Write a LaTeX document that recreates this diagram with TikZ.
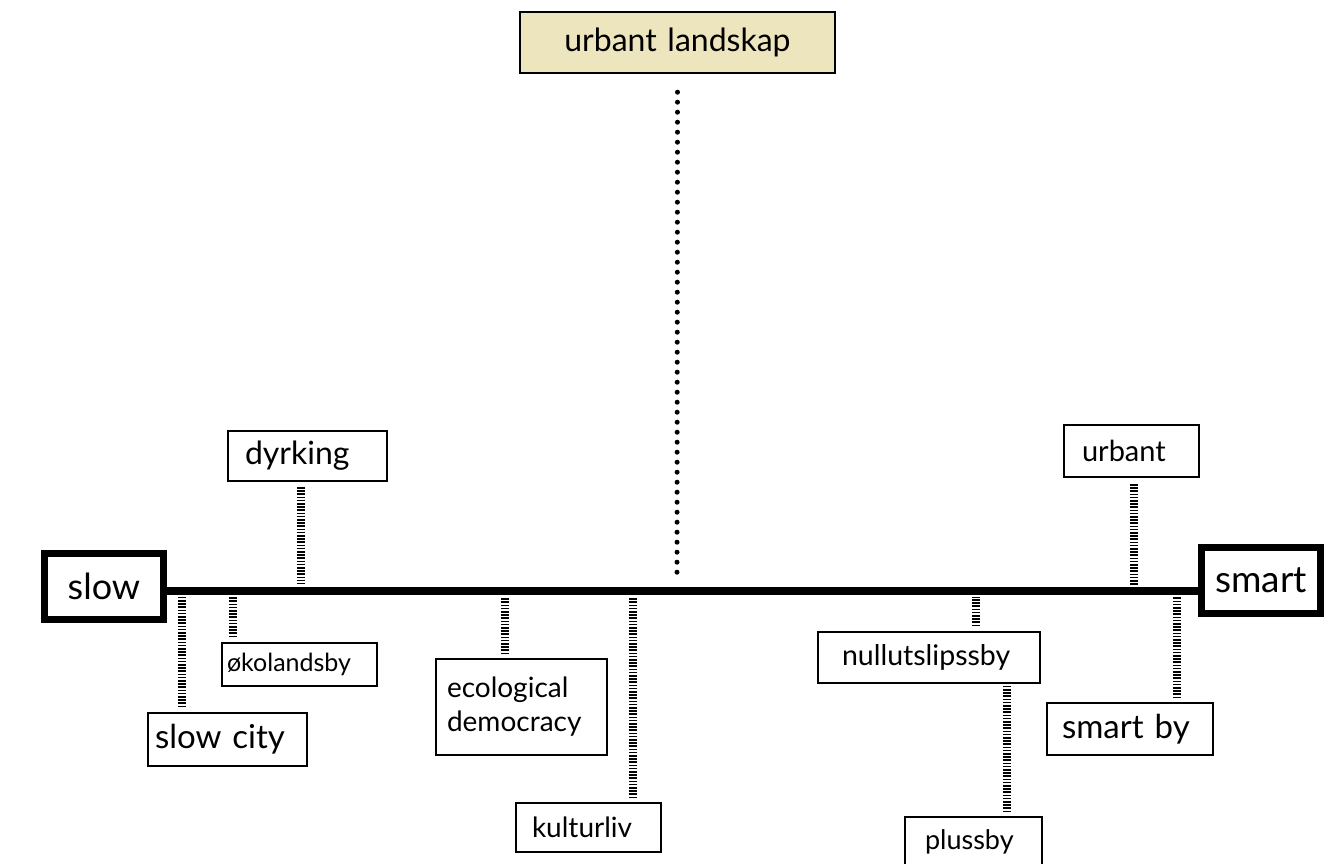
\documentclass[tikz,border=0pt]{standalone}
\usepackage{fontspec}
\setmainfont{Lato}
\definecolor{beige}{RGB}{237,229,189}
\begin{document}
\begin{tikzpicture}[x=1pt,y=-1pt,
  fs/.style={font=\fontsize{#1pt}{#1pt}\selectfont},
  tbox/.style={draw, line width=1.8pt, inner ysep=0pt, align=left},
  bigbox/.style={draw, line width=7pt, inner ysep=0pt, inner xsep=0pt, align=center},
  mainline/.style={line width=7.5pt},
  stripe/.style={line width=8pt, dash pattern=on 1.6pt off 1.6pt},
  dots/.style={line width=5pt, line cap=round, dash pattern=on 0pt off 10pt}]
\useasboundingbox (0,0) rectangle (1339,863);

% top box
\node[draw, line width=2.4pt, fill=beige, align=center, inner xsep=0pt, inner ysep=0pt,
      text width=315pt, minimum height=61pt, fs=32] (ul) at (677.5,42.5) {urbant landskap};

% end boxes
\node[bigbox, text width=119pt, minimum height=66pt, fs=36] (slow) at (104,586.5) {slow};
\node[bigbox, text width=119pt, minimum height=66pt, fs=37] (smart) at (1261,580.5) {smart};

% small boxes
\node[tbox, text width=125pt, inner xsep=17pt, minimum height=50pt, fs=32] (dyr) at (307.5,456) {dyrking};
\node[tbox, text width=99pt, inner xsep=18pt, minimum height=52pt, fs=29] (urb) at (1131.5,451) {urbant};
\node[tbox, text width=145pt, inner xsep=7pt, minimum height=53pt, fs=33] (slc) at (227.5,739.5) {slow city};
\node[tbox, text width=145pt, inner xsep=5pt, minimum height=43pt, fs=25] (oko) at (299.5,664.5) {økolandsby};
\node[tbox, text width=149pt, inner xsep=11pt, minimum height=96pt,
      font=\fontsize{28pt}{34pt}\selectfont] (eco) at (521.5,707) {ecological\\democracy};
\node[tbox, text width=113pt, inner xsep=16pt, minimum height=49pt, fs=28] (kul) at (588.5,827.5) {kulturliv};
\node[tbox, text width=174pt, inner xsep=24pt, minimum height=51pt, fs=28.5] (nul) at (929,657.5) {nullutslipssby};
\node[tbox, text width=97pt, inner xsep=20pt, minimum height=49pt, fs=27] (plu) at (973.5,841.5) {plussby};
\node[tbox, text width=136pt, inner xsep=15pt, minimum height=52pt, fs=33] (smb) at (1130,729) {smart by};

% main line
\coordinate (M) at (677,591);
\draw[mainline] (slow.east |- M) -- (smart.west |- M);

% dotted line
\coordinate (dend) at (677,572.5);
\draw[dots] (ul.south) ++(0,18) -- (dend);

% connector end points on the line
\coordinate (cdyr) at (301,583);
\coordinate (curb) at (1134,586);
\coordinate (cslc) at (182,597);
\coordinate (coko) at (233,597);
\coordinate (ceco) at (505,597);
\coordinate (ckul) at (633,597);
\coordinate (cnul) at (976,597);
\coordinate (csmb) at (1177,597);
\coordinate (cplu) at (1007,685);

\draw[stripe] (dyr.south -| cdyr) ++(0,5) -- (cdyr);
\draw[stripe] (urb.south -| curb) ++(0,6) -- (curb);
\draw[stripe] (slc.north -| cslc) ++(0,-5) -- (cslc);
\draw[stripe] (oko.north -| coko) ++(0,-5) -- (coko);
\draw[stripe] (eco.north -| ceco) ++(0,-4) -- (ceco);
\draw[stripe] (kul.north -| ckul) ++(0,-4) -- (ckul);
\draw[stripe] (nul.north -| cnul) ++(0,-5) -- (cnul);
\draw[stripe] (smb.north -| csmb) ++(0,-4) -- (csmb);
\draw[stripe] (plu.north -| cplu) ++(0,-4) -- (cplu);
\end{tikzpicture}
\end{document}
